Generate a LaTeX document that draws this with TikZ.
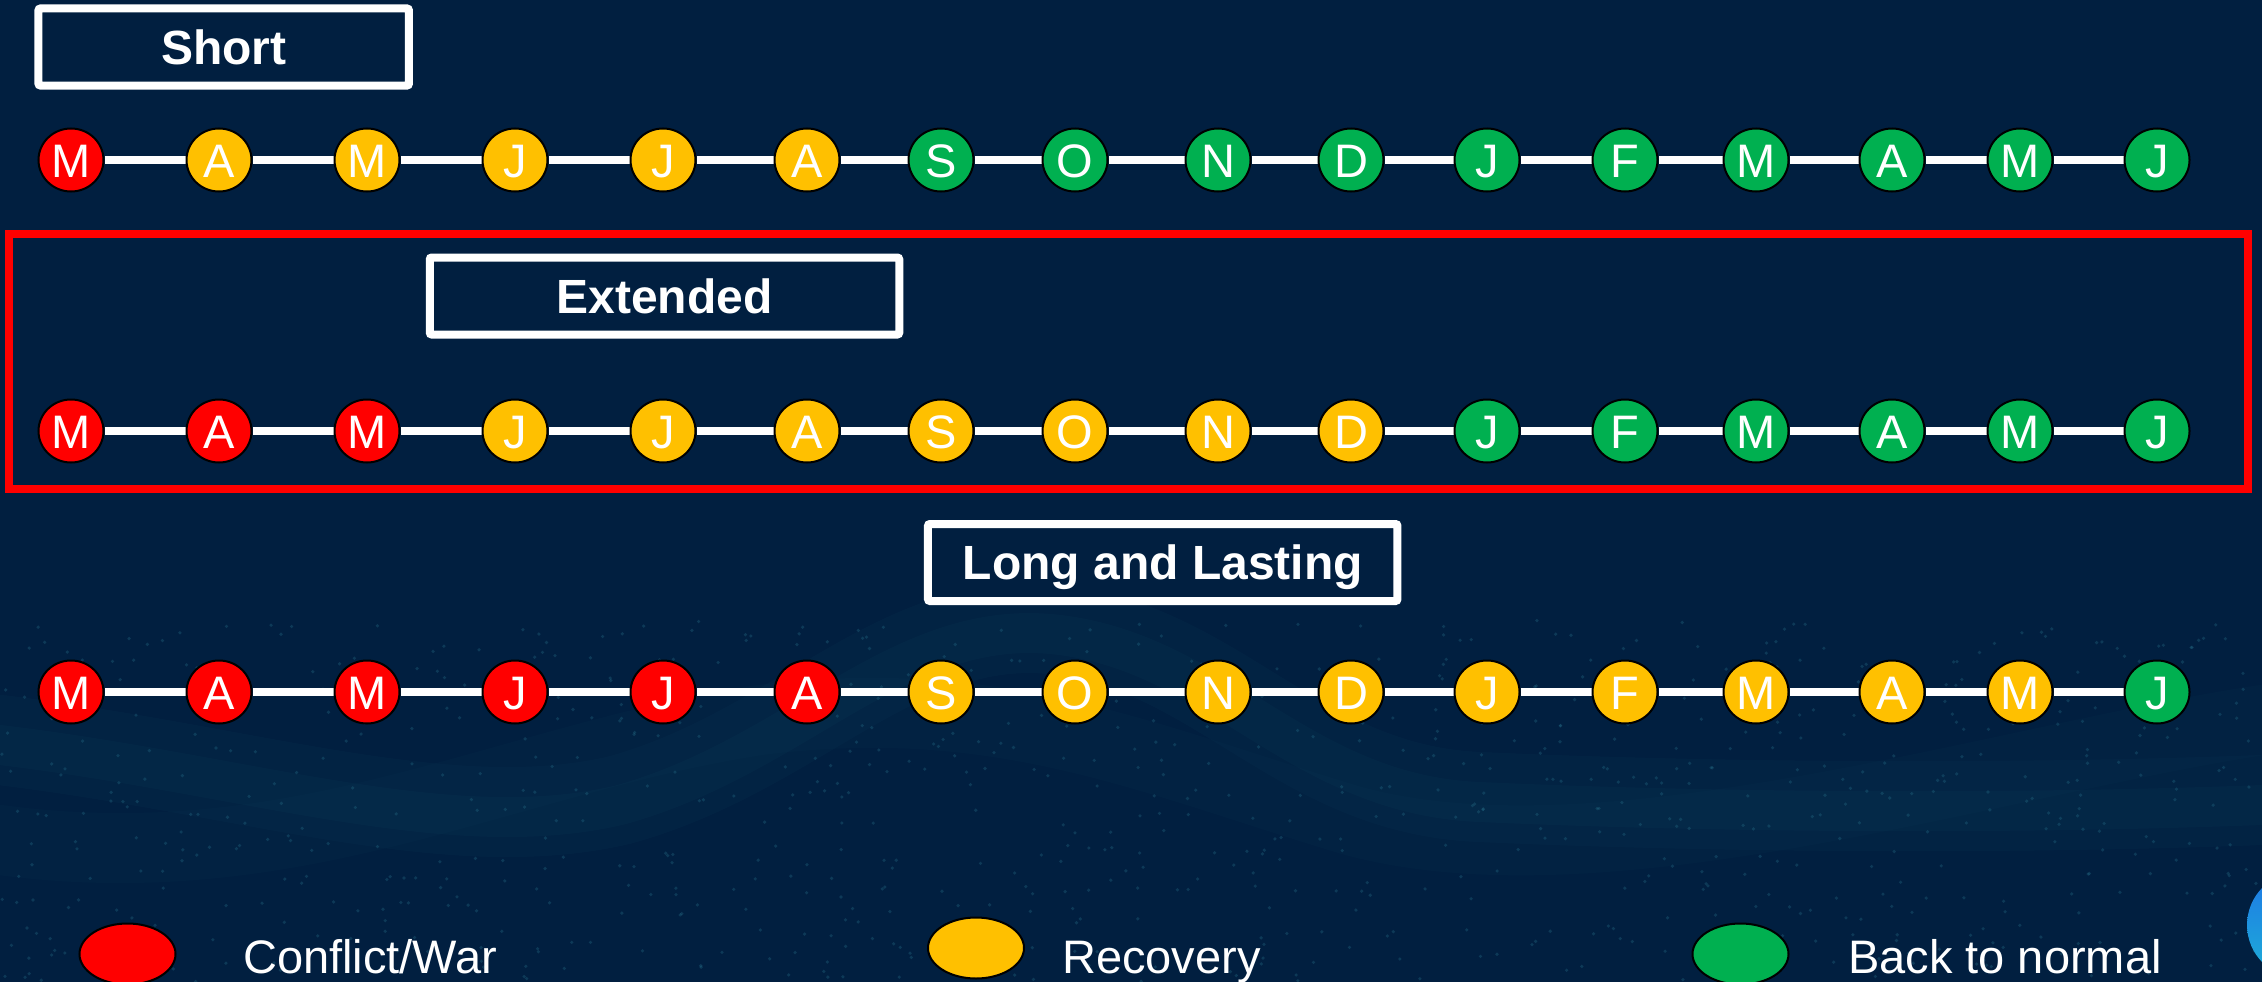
\documentclass[tikz,border=0pt]{standalone}
\usepackage{fontspec}
\setmainfont{Liberation Sans}
\usetikzlibrary{shapes.geometric}

\definecolor{navy}{RGB}{1,31,64}
\definecolor{warred}{RGB}{255,0,0}
\definecolor{recov}{RGB}{255,192,0}
\definecolor{normal}{RGB}{0,176,80}
\definecolor{particle}{RGB}{45,125,150}
\definecolor{glow}{RGB}{30,110,130}
\definecolor{logoA}{RGB}{30,120,230}
\definecolor{logoB}{RGB}{30,175,215}

\pgfdeclarelayer{backdrop}
\pgfdeclarelayer{links}
\pgfsetlayers{backdrop,links,main}

\tikzset{
  month/.style={ellipse, draw=black, line width=2pt, minimum width=65pt,
    minimum height=63pt, inner sep=0pt, text=white,
    font=\fontsize{47}{47}\selectfont, text height=34pt, text depth=0pt},
  link/.style={white, line width=8pt},
  titlebox/.style={draw=white, line width=8pt, fill=navy, rounded corners=2pt,
    inner sep=0pt, text=white, font=\fontsize{48}{48}\selectfont\bfseries,
    text height=34.5pt, text depth=0pt, minimum height=77pt},
  legkey/.style={ellipse, draw=black, line width=2pt, minimum width=96pt,
    minimum height=61pt, inner sep=0pt},
  legtext/.style={anchor=base west, inner sep=0pt, text=white,
    font=\fontsize{47}{47}\selectfont},
  frame/.style={draw=warred, line width=8pt}
}

% x positions of the sixteen months
\def\monthx{{71,219,367,515,663,807,941,1075,1218,1351,1487,1625,1756,1892,2020,2157}}

% one timeline: #1 name prefix, #2 y position, #3 month/colour list
\newcommand\drawmonthrow[3]{%
  \foreach \m/\c [count=\i] in {#3} {
    \pgfmathsetmacro\px{\monthx[\i-1]}
    \node[month, fill=\c] (#1\i) at (\px,#2) {\m};
  }
  \begin{pgfonlayer}{links}
    \foreach \i in {2,...,16} {
      \pgfmathtruncatemacro\j{\i-1}
      \draw[link] (#1\j) -- (#1\i);
    }
  \end{pgfonlayer}
}

\begin{document}
\begin{tikzpicture}[x=1pt, y=-1pt]
\useasboundingbox (0,0) rectangle (2262,982);

% backdrop with a faint particle wave
\begin{pgfonlayer}{backdrop}
  \fill[navy] (0,0) rectangle (2262,982);
  \begin{scope}
    \clip (0,0) rectangle (2262,982);
    \draw[glow, line width=90pt, opacity=0.06, line cap=round]
      (0,740) .. controls (250,770) and (450,840) .. (620,800)
      .. controls (800,750) and (900,610) .. (1060,630)
      .. controls (1220,650) and (1300,790) .. (1480,797)
      .. controls (1700,807) and (2000,810) .. (2262,800);
    \draw[glow, line width=40pt, opacity=0.06, line cap=round]
      (0,745) .. controls (250,775) and (450,845) .. (620,805)
      .. controls (800,755) and (900,615) .. (1060,635)
      .. controls (1220,655) and (1300,795) .. (1480,802)
      .. controls (1700,812) and (2000,815) .. (2262,805);
    \draw[glow, line width=70pt, opacity=0.04, line cap=round]
      (0,840) .. controls (300,880) and (500,760) .. (760,720)
      .. controls (1000,690) and (1150,760) .. (1350,820)
      .. controls (1600,890) and (2000,760) .. (2262,720);
    \pgfmathsetseed{5}
    \foreach \k in {1,...,900} {
      \pgfmathsetmacro\dx{rnd*2262}
      \pgfmathsetmacro\dy{620+rnd*362}
      \fill[particle, opacity=0.28] (\dx,\dy) circle (1.8pt);
    }
    \shade[top color=logoA, bottom color=logoB] (2300,925) circle (53pt);
  \end{scope}
\end{pgfonlayer}

% scenario titles
\node[titlebox, minimum width=370.5pt] (tshort) at (223.7,47) {Short};
\node[titlebox, minimum width=469.5pt] (text) at (664.5,296) {Extended};
\node[titlebox, minimum width=469.5pt] (tlong) at (1162.7,562.5) {Long and Lasting};

% highlighted scenario
\draw[frame] (9,234) rectangle (2248,489);

% timelines
\drawmonthrow{s}{160}{M/warred,A/recov,M/recov,J/recov,J/recov,A/recov,S/normal,O/normal,N/normal,D/normal,J/normal,F/normal,M/normal,A/normal,M/normal,J/normal}
\drawmonthrow{e}{431}{M/warred,A/warred,M/warred,J/recov,J/recov,A/recov,S/recov,O/recov,N/recov,D/recov,J/normal,F/normal,M/normal,A/normal,M/normal,J/normal}
\drawmonthrow{l}{692}{M/warred,A/warred,M/warred,J/warred,J/warred,A/warred,S/recov,O/recov,N/recov,D/recov,J/recov,F/recov,M/recov,A/recov,M/recov,J/normal}

% legend
\node[legkey, fill=warred] (kwar) at (127.5,954) {};
\node[legtext] (lwar) at (243,973) {Conflict/War};
\node[legkey, fill=recov] (krec) at (976,948) {};
\node[legtext] (lrec) at (1062,973) {Recovery};
\node[legkey, fill=normal] (knorm) at (1740.5,954) {};
\node[legtext] (lnorm) at (1848,973) {Back to normal};
\end{tikzpicture}
\end{document}
